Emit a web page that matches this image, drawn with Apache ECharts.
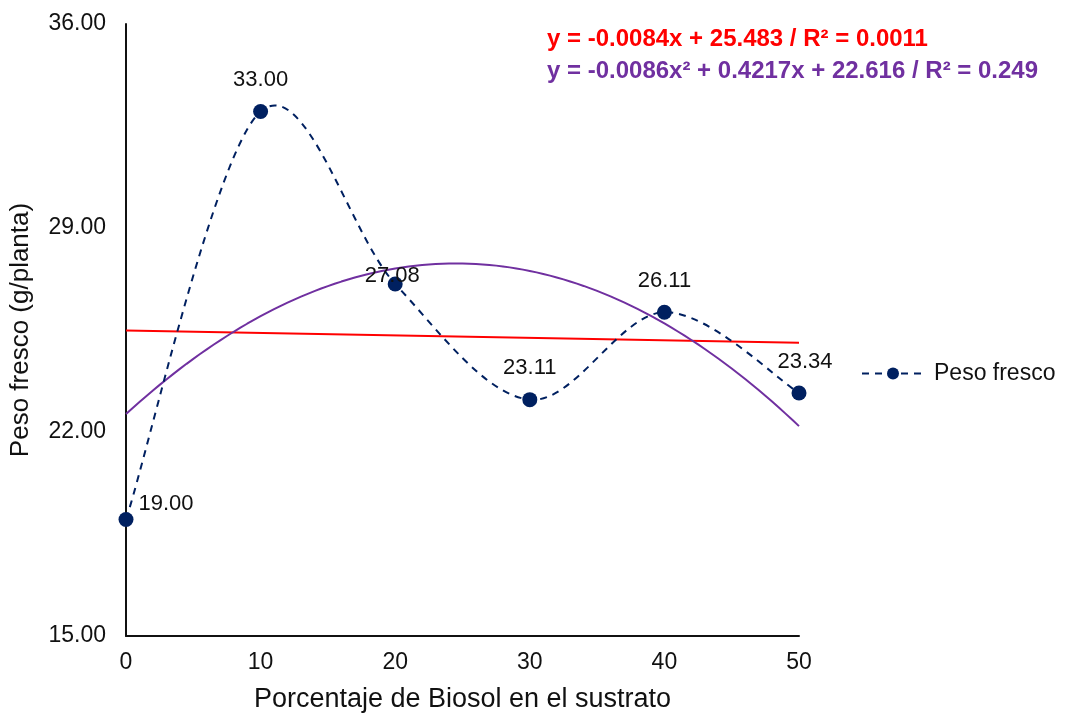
<!DOCTYPE html>
<html>
<head>
<meta charset="utf-8">
<script src="https://cdn.jsdelivr.net/npm/echarts@6/dist/echarts.min.js"></script>
<style>
  html, body { margin: 0; padding: 0; background: #fff; }
  #chart { width: 1065px; height: 715px; }
</style>
</head>
<body>
<div id="chart"></div>
<script>
// Biosol percentage in the substrate and measured fresh weight
const biosolPct = [0, 10, 20, 30, 40, 50];
const pesoFresco = [19.00, 33.00, 27.08, 23.11, 26.11, 23.34];
const yTicks = [15, 22, 29, 36];

// Fitted trendlines (coefficients as reported)
const linCoef = [-0.0084, 25.483];          // slope, intercept
const polyCoef = [-0.0086, 0.4217, 22.616]; // a, b, c
const linLabel = 'y = -0.0084x + 25.483 / R² = 0.0011';
const polyLabel = 'y = -0.0086x² + 0.4217x + 22.616 / R² = 0.249';

const NAVY = '#002060';
const FONT = 'Liberation Sans, Arial, sans-serif';
const DASH = [7, 6];

const xs = [];
for (let x = biosolPct[0]; x <= biosolPct[biosolPct.length - 1]; x += 0.5) xs.push(x);
const linData = [biosolPct[0], biosolPct[biosolPct.length - 1]].map(x => [x, linCoef[0] * x + linCoef[1]]);
const polyData = xs.map(x => [x, polyCoef[0] * x * x + polyCoef[1] * x + polyCoef[2]]);

const labelPos = ['right', 'top', 'top', 'top', 'top', 'top'];
const labelOffset = [[0, -15], [0, -8], [-3, 15], [0, -8], [0, -8], [6, -8]];

// Catmull-Rom style smoothed path through the data points (in pixel space)
function smoothPath(api) {
  const pts = biosolPct.map((x, i) => api.coord([x, pesoFresco[i]]));
  const n = pts.length;
  let d = 'M' + pts[0][0] + ' ' + pts[0][1];
  for (let i = 0; i < n - 1; i++) {
    const p0 = pts[Math.max(i - 1, 0)], p1 = pts[i], p2 = pts[i + 1], p3 = pts[Math.min(i + 2, n - 1)];
    const c1x = p1[0] + (p2[0] - p0[0]) / 6, c1y = p1[1] + (p2[1] - p0[1]) / 6;
    const c2x = p2[0] - (p3[0] - p1[0]) / 6, c2y = p2[1] - (p3[1] - p1[1]) / 6;
    d += ' C' + c1x + ' ' + c1y + ' ' + c2x + ' ' + c2y + ' ' + p2[0] + ' ' + p2[1];
  }
  return d;
}

const chart = echarts.init(document.getElementById('chart'), null, { renderer: 'canvas' });
chart.setOption({
  animation: false,
  textStyle: { fontFamily: FONT },
  grid: { left: 126, right: 266, top: 24, bottom: 79, containLabel: false, outerBoundsMode: 'none' },
  xAxis: {
    type: 'value', min: 0, max: 50, interval: 10,
    name: 'Porcentaje de Biosol en el sustrato', nameLocation: 'middle', nameGap: 50,
    nameTextStyle: { fontSize: 27, color: '#111', fontFamily: FONT },
    axisLine: { show: true, lineStyle: { color: '#111', width: 2 } },
    axisTick: { show: false },
    splitLine: { show: false },
    axisLabel: { fontSize: 23, color: '#111', margin: 15, fontFamily: FONT }
  },
  yAxis: {
    type: 'value', min: yTicks[0], max: yTicks[yTicks.length - 1], interval: 7,
    name: 'Peso fresco (g/planta)', nameLocation: 'middle', nameGap: 92, nameRotate: 90,
    nameTextStyle: { fontSize: 26, color: '#111', fontFamily: FONT },
    axisLine: { show: true, lineStyle: { color: '#111', width: 2 } },
    axisTick: { show: false },
    splitLine: { show: false },
    axisLabel: { fontSize: 23, color: '#111', margin: 20, fontFamily: FONT,
      formatter: v => v.toFixed(2) }
  },
  legend: {
    data: [{ name: 'Peso fresco' }],
    orient: 'vertical', left: 856, top: 357,
    itemWidth: 62, itemHeight: 15, itemGap: 10,
    lineStyle: { color: NAVY, width: 2, type: DASH, opacity: 1 },
    textStyle: { fontSize: 23, color: '#111', fontFamily: FONT, padding: [0, 0, 0, 5] }
  },
  graphic: [
    { type: 'text', left: 547, top: 27, style: { text: linLabel, fill: '#ff0000', font: 'bold 24px ' + FONT } },
    { type: 'text', left: 547, top: 59, style: { text: polyLabel, fill: '#7030a0', font: 'bold 24px ' + FONT } }
  ],
  series: [
    {
      name: 'Lineal', type: 'line', data: linData, symbol: 'none', silent: true,
      lineStyle: { color: '#ff0000', width: 2 }, z: 2
    },
    {
      name: 'Polinómica', type: 'line', data: polyData, symbol: 'none', silent: true,
      lineStyle: { color: '#7030a0', width: 2 }, z: 2
    },
    {
      name: 'Curva', type: 'custom', data: [0], z: 3, silent: true,
      renderItem: (params, api) => ({
        type: 'path',
        shape: { pathData: smoothPath(api) },
        style: { fill: 'none', stroke: NAVY, lineWidth: 2, lineDash: DASH }
      })
    },
    {
      name: 'Peso fresco', type: 'line', z: 4,
      data: biosolPct.map((x, i) => ({
        value: [x, pesoFresco[i]],
        label: { position: labelPos[i], offset: labelOffset[i] }
      })),
      symbol: 'circle', symbolSize: 15,
      itemStyle: { color: NAVY },
      lineStyle: { color: NAVY, width: 2, type: DASH, opacity: 0 },
      label: { show: true, fontSize: 22, color: '#111', fontFamily: FONT,
        formatter: p => p.value[1].toFixed(2) }
    }
  ]
});
</script>
</body>
</html>
